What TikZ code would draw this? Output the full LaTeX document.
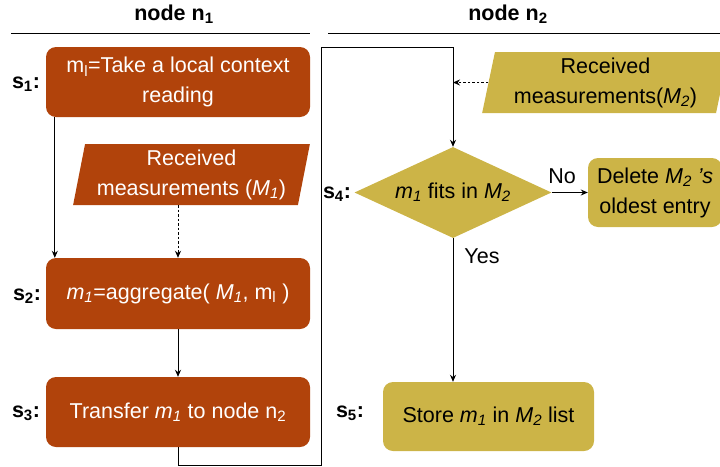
\documentclass[tikz,border=0pt]{standalone}
\usepackage{fontspec}
\setmainfont{Liberation Sans}
\usetikzlibrary{arrows.meta,shapes.geometric}
\definecolor{rust}{RGB}{177,67,11}
\definecolor{gold}{RGB}{204,180,71}
\newcommand\mo{\textit{m}\textsubscript{\textit{1}}}
\newcommand\Mo{\textit{M}\textsubscript{\textit{1}}}
\newcommand\Mt{\textit{M}\textsubscript{\textit{2}}}
\newcommand\mloc{m\textsubscript{l}}
\begin{document}
\begin{tikzpicture}[x=1pt,y=-1pt,
  font=\fontsize{21.5}{30}\selectfont,
  box/.style={rounded corners=10pt, align=center, inner sep=0pt},
  rbox/.style={box, fill=rust, text=white},
  ybox/.style={box, fill=gold, text=black},
  para/.style={trapezium, trapezium left angle=78, trapezium right angle=102,
    trapezium stretches=true, align=center, inner sep=0pt, minimum height=61pt},
  lbl/.style={font=\fontsize{21.5}{24}\selectfont\bfseries},
  hdr/.style={font=\fontsize{21.5}{24}\selectfont\bfseries},
  conn/.style={line width=0.9pt, -{Stealth[length=7pt,width=6pt]}},
  dconn/.style={conn, dash pattern=on 2.5pt off 2pt},
  rule/.style={line width=1pt}]
\useasboundingbox (0,0) rectangle (720,466);

% headers
\node[hdr] (h1) at (174,14) {node n\textsubscript{1}};
\node[hdr] (h2) at (508,14) {node n\textsubscript{2}};
\draw[rule] (11,33) -- (310,33);
\draw[rule] (328,33) -- (720,33);

% node n1
\node[rbox, minimum width=264pt, minimum height=70pt] (s1) at (178,82)
  {\mloc=Take a local context\\reading};
\node[para, fill=rust, text=white, minimum width=237pt] (M1) at (191.5,174.5)
  {Received\\measurements (\Mo)};
\node[rbox, minimum width=264pt, minimum height=71pt] (s2) at (178,293.5)
  {\mo=aggregate( \Mo, \mloc\ )};
\node[rbox, minimum width=264pt, minimum height=70pt] (s3) at (178,412)
  {Transfer \mo\ to node n\textsubscript{2}};

% node n2
\node[para, fill=gold, text=black, minimum width=247pt] (M2) at (605.5,82.5)
  {Received\\measurements(\Mt)};
\node[diamond, shape aspect=2.16, fill=gold, minimum width=197pt, minimum height=91pt, inner sep=0pt] (D) at (453,192.5)
  {\mo\ fits in \Mt};
\node[ybox, minimum width=134pt, minimum height=69pt] (Del) at (655,192.5)
  {Delete \Mt\ \textit{'s}\\oldest entry};
\node[ybox, minimum width=211pt, minimum height=69pt] (s5) at (488.5,416.5)
  {Store \mo\ in \Mt\ list};

% step labels
\node[lbl] (l1) at (26,84) {s\textsubscript{1}:};
\node[lbl] (l2) at (27,296) {s\textsubscript{2}:};
\node[lbl] (l3) at (26,413) {s\textsubscript{3}:};
\node[lbl] (l4) at (337,194) {s\textsubscript{4}:};
\node[lbl] (l5) at (350,413) {s\textsubscript{5}:};

% connectors
\draw[conn] ([xshift=9pt]s1.south west) -- ([xshift=9pt]s2.north west);
\draw[dconn] (s2.north |- M1.south) -- (s2.north);
\draw[conn] (s2.south) -- (s3.north);
\coordinate (c1) at (321,465);
\coordinate (c2) at (321,47);
\draw[conn] (s3.south) |- (c1) -- (c2) -| (D.north);
\draw[dconn] (M2.left side) -- (D.north |- M2.left side);
\draw[conn] (D.east) -- (Del.west);
\draw[conn] (D.south) -- (D.south |- s5.north);
\node (no) at (562,176) {No};
\node (yes) at (482,256) {Yes};
\end{tikzpicture}
\end{document}
